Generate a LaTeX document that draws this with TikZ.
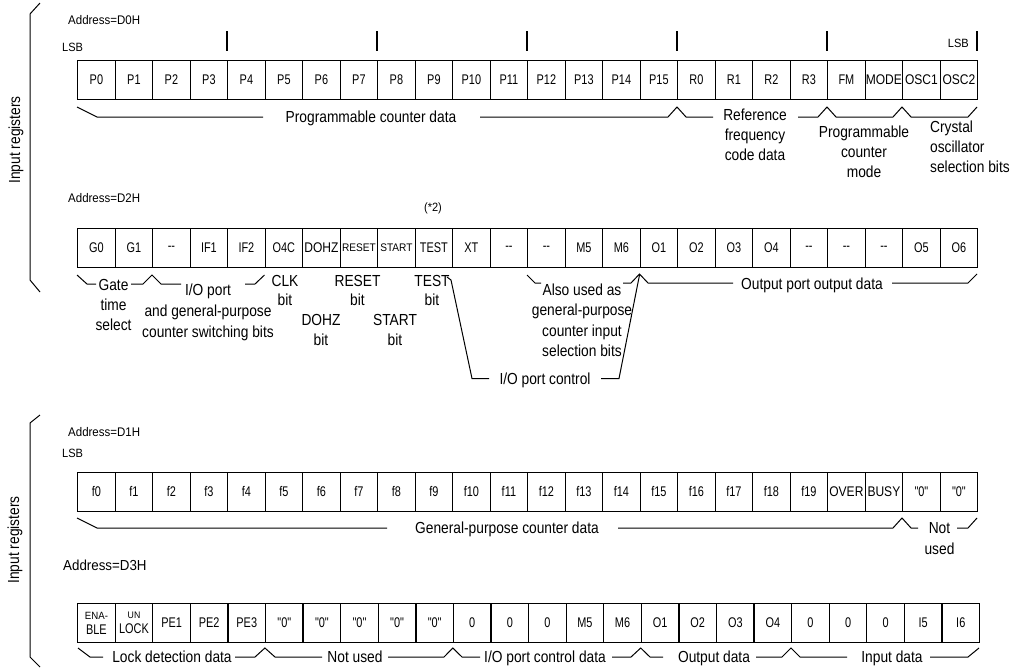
\documentclass[tikz,border=0pt]{standalone}
\usepackage{fontspec}
\setmainfont{Liberation Sans}
\newfontfamily\lf{Liberation Sans}[FakeStretch=0.86]
\newfontfamily\cf{Liberation Sans}[FakeStretch=0.78]
\newfontfamily\af{Liberation Sans}[FakeStretch=0.92]
\newcommand\regrow[5]{\foreach \t [count=\i from 0] in {#5}{\node[cellbox,minimum width=#4pt] (#1\i) at ({#2+#4*\i},#3) {\t};}}
\begin{document}
\begin{tikzpicture}[x=1pt,y=-1pt,
  cellbox/.style={draw,line width=1.3pt,minimum height=38.5pt,inner sep=0pt,anchor=north west,align=center,font=\cf\fontsize{14}{15}\selectfont},
  lab/.style={font=\lf\fontsize{16}{19}\selectfont,inner sep=0pt,anchor=base},
  labw/.style={lab,anchor=base west},
  adr/.style={font=\af\fontsize{12.5}{14}\selectfont,inner sep=0pt,anchor=base west},
  brk/.style={line width=1pt,line join=miter},
  tick/.style={line width=1.3pt}]
\useasboundingbox (0,0) rectangle (1014,670);
% ---------------- side braces
\draw[brk] (40,3) -- (30,14) -- (30,280) -- (40,292);
\node[lab,anchor=center,rotate=90] (ir1) at (16,140) {Input registers};
\draw[brk] (40,415) -- (30,423) -- (30,657) -- (40,667);
\node[lab,anchor=center,rotate=90] (ir2) at (15,540) {Input registers};
% ---------------- D0H
\node[adr] (ad0) at (68,24.5) {Address=D0H};
\node[adr,font=\af\fontsize{12}{14}\selectfont] (lsb0) at (62,51.5) {LSB};
\node[adr,font=\af\fontsize{12}{14}\selectfont,anchor=base east] (lsb1) at (969,47.5) {LSB};
\foreach \xx in {227,377,527,677,827,977} \draw[tick] (\xx,31) -- (\xx,51);
\regrow{a}{77}{60}{37.5}{P0,P1,P2,P3,P4,P5,P6,P7,P8,P9,P10,P11,P12,P13,P14,P15,R0,R1,R2,R3,FM,{\lf MODE},{\lf OSC1},{\lf OSC2}}
\draw[brk] (77,107) -- (97,117) -- (263,117);
\node[lab] (pcd) at (371,122.8) {Programmable counter data};
\draw[brk] (480,117) -- (668,117) -- (677,107) -- (686,117) -- (713,117);
\node[lab] (rf1) at (755,120) {Reference};
\node[lab] (rf2) at (755,140) {frequency};
\node[lab] (rf3) at (755,160) {code data};
\draw[brk] (798,117) -- (818,117) -- (827,107) -- (836,117) -- (893,117) -- (902,107) -- (911,117) -- (968,117) -- (977,107);
\node[lab] (pm1) at (864,137) {Programmable};
\node[lab] (pm2) at (864,157) {counter};
\node[lab] (pm3) at (864,177) {mode};
\node[labw] (co1) at (930,132) {Crystal};
\node[labw] (co2) at (930,152) {oscillator};
\node[labw] (co3) at (930,172) {selection bits};
% ---------------- D2H
\node[adr] (ad2) at (68,202.5) {Address=D2H};
\node[adr,font=\af\fontsize{12}{14}\selectfont,anchor=base] (note) at (433,211) {(*2)};
\regrow{b}{77}{228}{37.5}{G0,G1,{{-}{-}},IF1,IF2,O4C,{\lf DOHZ},{\af\fontsize{11}{12}\selectfont RESET},{\af\fontsize{11}{12}\selectfont START},TEST,XT,{{-}{-}},{{-}{-}},M5,M6,O1,O2,O3,O4,{{-}{-}},{{-}{-}},{{-}{-}},O5,O6}
\draw[brk] (77,275) -- (87,284) -- (96,284);
\node[lab] (g1) at (113.5,290) {Gate};
\node[lab] (g2) at (113.5,310) {time};
\node[lab] (g3) at (113.5,330) {select};
\draw[brk] (131,284) -- (143,284) -- (152,275) -- (161,284) -- (181,284);
\node[lab] (io1) at (208,295) {I/O port};
\node[lab] (io2) at (208,316) {and general-purpose};
\node[lab] (io3) at (208,337) {counter switching bits};
\draw[brk] (245,284) -- (255,284) -- (264.5,275);
\node[lab] (clk1) at (285,286) {CLK};
\node[lab] (clk2) at (285,305) {bit};
\node[lab] (rs1) at (357.5,286) {RESET};
\node[lab] (rs2) at (357.5,305) {bit};
\node[lab] (ts1) at (432,286) {TEST};
\node[lab] (ts2) at (432,305) {bit};
\node[lab] (dz1) at (321,325) {DOHZ};
\node[lab] (dz2) at (321,345) {bit};
\node[lab] (st1) at (395,325) {START};
\node[lab] (st2) at (395,345) {bit};
\draw[brk] (527,275) -- (535,283) -- (541,283);
\node[lab] (au1) at (582,295) {Also used as};
\node[lab] (au2) at (582,315.5) {general-purpose};
\node[lab] (au3) at (582,336) {counter input};
\node[lab] (au4) at (582,356.5) {selection bits};
\draw[brk] (623,283) -- (631,283) -- (639.5,274) -- (648,283) -- (733,283);
\node[lab] (opd) at (812,289.5) {Output port output data};
\draw[brk] (892,283) -- (968,283) -- (977,274);
\draw[brk] (447,277) -- (451,280) -- (472,378.5) -- (489,378.5);
\node[lab] (ioc) at (545,384.5) {I/O port control};
\draw[brk] (601,378.5) -- (619,378.5) -- (639.5,275);
% ---------------- D1H
\node[adr] (ad1) at (68,436.5) {Address=D1H};
\node[adr,font=\af\fontsize{12}{14}\selectfont] (lsb2) at (62,457.5) {LSB};
\regrow{c}{77}{472}{37.5}{f0,f1,f2,f3,f4,f5,f6,f7,f8,f9,f10,f11,f12,f13,f14,f15,f16,f17,f18,f19,{\lf OVER},{\lf BUSY},"0","0"}
\draw[brk] (77,518) -- (97,528) -- (387,528);
\node[lab] (gpc) at (507,533.5) {General-purpose counter data};
\draw[brk] (618,528) -- (893,528) -- (902,518) -- (911,528) -- (918,528);
\node[lab] (nu1) at (939.5,533.5) {Not};
\node[lab] (nu2) at (939.5,554.5) {used};
\draw[brk] (957,528) -- (968,528) -- (977,518);
% ---------------- D3H
\node[adr,font=\af\fontsize{14.5}{16}\selectfont] (ad3) at (63,570) {Address=D3H};
\regrow{d}{77}{603}{37.58}{{\af\fontsize{10.5}{12}\selectfont ENA-\\BLE},{\af\fontsize{9.5}{12}\selectfont UN\\LOCK},PE1,PE2,PE3,"0","0","0","0","0",0,0,0,M5,M6,O1,O2,O3,O4,0,0,0,I5,I6}
\draw[brk] (78,648) -- (90,657) -- (103,657);
\node[lab] (ldd) at (172,662.5) {Lock detection data};
\draw[brk] (235,657) -- (255,657) -- (264.9,648) -- (275,657) -- (322,657);
\node[lab] (nu3) at (355,662.5) {Not used};
\draw[brk] (388,657) -- (444,657) -- (452.8,648) -- (462,657) -- (480,657);
\node[lab] (iocd) at (545,662.5) {I/O port control data};
\draw[brk] (612,657) -- (631,657) -- (640.7,648) -- (650,657) -- (663,657);
\node[lab] (od) at (714,662.5) {Output data};
\draw[brk] (756,657) -- (782,657) -- (791,648) -- (800,657) -- (847,657);
\node[lab] (ind) at (892,662.5) {Input data};
\draw[brk] (930,657) -- (968,657) -- (979,648);
\end{tikzpicture}
\end{document}
